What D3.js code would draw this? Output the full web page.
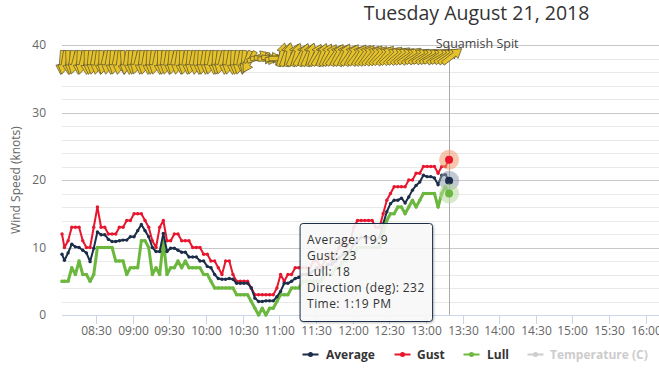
<!DOCTYPE html>
<html><head><meta charset="utf-8">
<script src="https://cdn.jsdelivr.net/npm/d3@7"></script>
<style>
html,body{margin:0;padding:0;background:#fff;}
svg{display:block;font-family:"Open Sans",sans-serif;}
</style></head><body>
<svg id="chart" width="659" height="368"></svg>
<script>
const times = ["08:02","08:04","08:07","08:10","08:13","08:16","08:19","08:22","08:25","08:28",
"08:31","08:34","08:37","08:40","08:43","08:46","08:49","08:52","08:55","08:58",
"09:01","09:04","09:07","09:10","09:13","09:16","09:19","09:22","09:25","09:28",
"09:31","09:34","09:37","09:40","09:43","09:46","09:49","09:52","09:55","09:58",
"10:01","10:04","10:07","10:10","10:13","10:16","10:19","10:22","10:25","10:28",
"10:31","10:34","10:37","10:40","10:43","10:46","10:49","10:52","10:55","10:58",
"11:01","11:04","11:07","11:10","11:13","11:16","11:19","11:22","11:25","11:28",
"11:31","11:34","11:37","11:40","11:43","11:46","11:49","11:52","11:55","11:58",
"12:01","12:04","12:07","12:10","12:13","12:16","12:19","12:22","12:25","12:28",
"12:31","12:34","12:37","12:40","12:43","12:46","12:49","12:52","12:55","12:58",
"13:01","13:04","13:07","13:10","13:13","13:16","13:19"];
const gust = [12,10,11,13,13,13,11,10,10,13,
16,13,13,12,12,12,13,13,14,14,
15,15,15,14,13,11,10,13,14,11,
11,12,12,11,11,11,10,10,10,9,
9,8,8,7,6,8,8,6,5,5,
5,5,4,3,3,3,3,3,3,4,
6,5,6,6,7,7,7,7,7,8,
8,7,8,9,8,9,10,11,10,11,
13,14,14,14,14,14,13,13,15,17,
18,19,19,19,19,20,20,21,21,22,
22,22,22,21,22,22,23];
const average = [9,8.1,9.2,10.5,10.1,10,9.6,9.2,7.9,9.9,
12.3,11.9,11.9,11.2,10.9,10.9,11,11.1,11.1,11.6,
11.6,12.5,13.4,12.5,11.6,10,9.4,9.4,12.1,9.4,
9.9,9.9,9.6,9.3,9.3,8.6,8.6,8.6,8,8,
7.2,7,6,5.4,5.3,5.3,5.4,5.3,4.7,4.7,
4.7,4.7,4,2.5,2,2,2.1,2.1,2.1,2.7,
3.5,4.7,4.7,5,5.4,5.6,6,6,6.2,6.5,
7,6.5,7,7.5,7.5,8,8.5,9,9,9.5,
10.5,11,11.5,11.5,11.5,11,11,11.5,13.5,15.3,
16.5,17,17,17.3,16.6,17.5,18.5,19.2,19.7,20.7,
20.5,20.5,20.3,19.3,20.7,20.8,19.9];
const lull = [5,5,5,7,6,8,6,6,5,6,
10,10,10,10,10,8,8,8,6,7,
7,7,11,11,10,6,7,6,11,6,
7,7,8,7,8,7,7,7,7,6,
6,5,4,4,4,4,4,4,3,3,
3,3,2,1,0,1,0,1,1,2,
3,3,3,4,4,4,5,5,5,5,
5,5,6,6,6,7,7,8,8,9,
9,10,10,10,10,10,10,10,12,14,
15,15,16,16,15,16,17,16,17,18,
18,18,18,16,18,19,18];
const direction = [5,10,358,8,15,3,12,0,6,10,
8,2,14,10,5,12,7,355,10,4,
9,15,6,11,3,8,12,0,7,10,
5,14,9,2,11,6,13,8,4,10,
7,12,3,9,15,5,10,2,8,12,
6,20,30,250,270,275,265,280,260,270,
195,200,190,205,198,210,200,205,195,208,
212,200,205,210,215,208,212,205,215,210,
218,212,215,215,220,218,222,225,220,228,
225,230,228,232,235,230,238,235,240,236,
238,242,235,240,238,235,232];
const xTickLabels = ["08:30","09:00","09:30","10:00","10:30","11:00","11:30","12:00","12:30","13:00","13:30","14:00","14:30","15:00","15:30","16:00"];
const yTickLabels = [0,10,20,30,40];
const xDomain = ["08:02","16:15"];
const yDomain = [0,40];
const barbLevel = 38;
const chartTitle = "Tuesday August 21, 2018";
const stationName = "Squamish Spit";
const yTitle = "Wind Speed (knots)";
const tooltipTime = "1:19 PM";
const seriesNames = ["Average","Gust","Lull","Temperature (C)"];

const colors = {avg:"#1c2d49", gust:"#e8162e", lull:"#6cb83f", temp:"#cccccc"};
const W = 659, H = 368;
const parse = d3.timeParse("%H:%M");
const x = d3.scaleTime().domain(xDomain.map(parse)).range([62, 664]);
const y = d3.scaleLinear().domain(yDomain).range([315, 45]);
const svg = d3.select("#chart");
const T = times.map(parse);

const defs = svg.append("defs");
const f = defs.append("filter").attr("id","sh").attr("x","-20%").attr("y","-20%").attr("width","140%").attr("height","140%");
f.append("feDropShadow").attr("dx",1).attr("dy",1).attr("stdDeviation",1.2).attr("flood-color","#000").attr("flood-opacity",0.25);

// grid
const minor = d3.range(yDomain[0], yDomain[1]+0.1, 2).filter(v => v % 10 !== 0);
svg.append("g").selectAll("line").data(minor).join("line")
  .attr("x1", 62).attr("x2", W).attr("y1", d => Math.round(y(d))+0.5).attr("y2", d => Math.round(y(d))+0.5)
  .attr("stroke", "#e9e9e9");
svg.append("g").selectAll("line").data(yTickLabels.filter(v=>v>0)).join("line")
  .attr("x1", 62).attr("x2", W).attr("y1", d => Math.round(y(d))+0.5).attr("y2", d => Math.round(y(d))+0.5)
  .attr("stroke", "#c8c8c8");
// x axis line & ticks
svg.append("line").attr("x1",62).attr("x2",W).attr("y1",Math.round(y(0))+0.5).attr("y2",Math.round(y(0))+0.5).attr("stroke","#ccd6eb");
const xt = svg.append("g");
xTickLabels.forEach(s => {
  const px = Math.round(x(parse(s)))+0.5;
  xt.append("line").attr("x1",px).attr("x2",px).attr("y1",y(0)).attr("y2",y(0)+9).attr("stroke","#ccd6eb");
  xt.append("text").attr("x",px).attr("y",y(0)+20).attr("text-anchor","middle")
    .attr("font-size","12px").attr("fill","#666").text(s);
});
// y labels
svg.append("g").selectAll("text").data(yTickLabels).join("text")
  .attr("x", 46).attr("y", d => y(d)+4).attr("text-anchor","end")
  .attr("font-size","12px").attr("fill","#666").text(d => d);
svg.append("text").attr("transform",`translate(20,${(y(0)+y(40))/2}) rotate(-90)`)
  .attr("text-anchor","middle").attr("font-size","12px").attr("fill","#666").text(yTitle);

// crosshair
const last = T.length-1;
const cx = Math.round(x(T[last]))+0.5;
svg.append("line").attr("x1",cx).attr("x2",cx).attr("y1",y(40)).attr("y2",y(0)).attr("stroke","#aaa");

// series
function drawSeries(vals, color, w){
  const line = d3.line().x((d,i)=>x(T[i])).y(d=>y(d));
  svg.append("path").datum(vals).attr("d",line).attr("fill","none").attr("stroke",color)
    .attr("stroke-width",w).attr("stroke-linejoin","round").attr("stroke-linecap","round");
  svg.append("g").selectAll("circle").data(vals).join("circle")
    .attr("cx",(d,i)=>x(T[i])).attr("cy",d=>y(d)).attr("r",1.7).attr("fill",color);
}
drawSeries(lull, colors.lull, 3);
drawSeries(gust, colors.gust, 2);
drawSeries(average, colors.avg, 2);

// wind arrows (tail-side shorter than tip-side around the anchor)
const tail = 8, tip = 16, hl = 9, hw = 5.5, sw = 2.2;
const arrowPts = [[0,-tip],[hw,-tip+hl],[sw,-tip+hl],[sw,tail],[-sw,tail],[-sw,-tip+hl],[-hw,-tip+hl]];
svg.append("g").selectAll("path").data(direction).join("path")
  .attr("d", "M" + arrowPts.map(p=>p.join(",")).join("L") + "Z")
  .attr("transform",(d,i)=>`translate(${x(T[i])},${y(barbLevel)}) rotate(${d+180})`)
  .attr("fill","#e6c22a").attr("stroke","#5e5630").attr("stroke-width",0.7).attr("stroke-linejoin","round");

// hover halos
[[gust,"#f39a6b",colors.gust],[average,"#8f9aab",colors.avg],[lull,"#b6d99d",colors.lull]].forEach(([v,h,c])=>{
  svg.append("circle").attr("cx",x(T[last])).attr("cy",y(v[last])).attr("r",10).attr("fill",h).attr("fill-opacity",0.55);
  svg.append("circle").attr("cx",x(T[last])).attr("cy",y(v[last])).attr("r",4).attr("fill",c);
});

// station label
svg.append("text").attr("x",x(T[last])+28).attr("y",y(40)+3).attr("text-anchor","middle")
  .attr("font-size","12.5px").attr("fill","#444").text(stationName);

// tooltip
const tx = x(T[last]) - 149, ty = 223.5;
const tg = svg.append("g");
tg.append("rect").attr("x",tx).attr("y",ty).attr("width",132.5).attr("height",98).attr("rx",3)
  .attr("fill","rgba(250,250,250,0.88)").attr("stroke",colors.avg).attr("stroke-width",1).attr("filter","url(#sh)");
const lines = [`Average: ${average[last]}`, `Gust: ${gust[last]}`, `Lull: ${lull[last]}`, `Direction (deg): ${direction[last]}`, `Time: ${tooltipTime}`];
lines.forEach((s,i)=>{
  tg.append("text").attr("x",tx+7).attr("y",ty+20.5+i*16).attr("font-size","12px")
    .attr("letter-spacing","0.45px").attr("fill","#333").text(s);
});

// legend
const legendItems = [
  {name:seriesNames[0], c:colors.avg, sx:310.5, tx:326, tc:"#333"},
  {name:seriesNames[1], c:colors.gust, sx:402.5, tx:417, tc:"#333"},
  {name:seriesNames[2], c:colors.lull, sx:471.5, tx:487, tc:"#333"},
  {name:seriesNames[3], c:colors.temp, sx:535.5, tx:550, tc:"#cccccc"}];
const lg = svg.append("g");
legendItems.forEach(it=>{
  lg.append("line").attr("x1",it.sx-8).attr("x2",it.sx+8).attr("y1",354.5).attr("y2",354.5).attr("stroke",it.c).attr("stroke-width",2);
  lg.append("circle").attr("cx",it.sx).attr("cy",354.5).attr("r",2.5).attr("fill",it.c);
  lg.append("text").attr("x",it.tx).attr("y",359).attr("font-size","12px").attr("font-weight","bold").attr("fill",it.tc).text(it.name);
});

// title
svg.append("text").attr("x",476.5).attr("y",19.5).attr("text-anchor","middle").attr("font-size","19.5px").attr("fill","#333").text(chartTitle);
</script></body></html>
